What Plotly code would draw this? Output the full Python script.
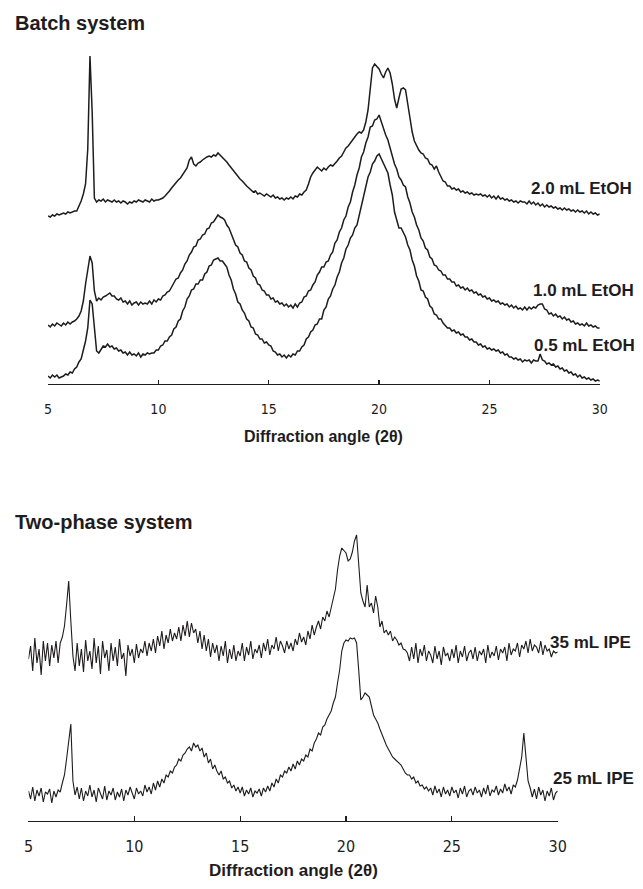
import plotly.graph_objects as go

# ---------------- data ----------------
# scan angles (2-theta, degrees), 0.1 degree steps from 5 to 30
angles = [round(5 + 0.1 * i, 1) for i in range(251)]

# Batch system (intensity, a.u., stacked offsets included)
etoh_20 = [
    168, 167, 169, 168, 170, 169, 170, 171, 170, 172,
    171, 172, 173, 173, 178, 183, 190, 200, 235, 328,
    272, 186, 182, 184, 183, 185, 182, 184, 183, 182,
    184, 182, 183, 181, 183, 182, 180, 182, 181, 183,
    182, 184, 183, 182, 184, 183, 182, 185, 183, 184,
    184, 185, 186, 188, 190, 193, 196, 199, 202, 204,
    206, 209, 212, 216, 224, 227, 220, 218, 221, 222,
    224, 226, 227, 228, 227, 229, 228, 231, 229, 227,
    225, 222, 219, 216, 213, 210, 208, 205, 203, 200,
    198, 196, 194, 192, 193, 190, 191, 189, 188, 190,
    188, 187, 189, 186, 187, 185, 186, 184, 186, 185,
    187, 185, 188, 187, 190, 189, 192, 194, 200, 207,
    211, 214, 217, 215, 213, 216, 214, 217, 219, 218,
    220, 223, 226, 228, 232, 236, 238, 241, 244, 248,
    250, 252, 251, 254, 262, 274, 292, 316, 320, 318,
    315, 310, 306, 312, 316, 311, 300, 285, 276, 286,
    295, 296, 294, 280, 266, 252, 243, 238, 234, 231,
    230, 226, 225, 220, 219, 215, 218, 212, 208, 203,
    202, 198, 198, 195, 196, 194, 195, 192, 193, 191,
    192, 190, 191, 189, 190, 189, 190, 188, 189, 187,
    189, 186, 188, 185, 188, 185, 186, 184, 185, 183,
    184, 182, 183, 181, 183, 182, 182, 180, 183, 180,
    182, 179, 181, 178, 180, 177, 179, 177, 178, 176,
    177, 175, 176, 174, 176, 174, 175, 173, 174, 172,
    174, 172, 173, 171, 173, 170, 172, 170, 171, 169,
    170,
]
etoh_10 = [
    59, 57, 60, 58, 61, 59, 58, 61, 59, 62,
    60, 62, 63, 65, 68, 73, 83, 100, 116, 128,
    121, 93, 83, 86, 84, 87, 88, 90, 91, 88,
    88, 85, 84, 86, 82, 83, 80, 83, 79, 81,
    82, 79, 82, 80, 81, 80, 83, 80, 84, 82,
    85, 84, 88, 89, 92, 93, 97, 100, 105, 106,
    111, 114, 120, 123, 129, 132, 137, 138, 144, 145,
    149, 150, 155, 156, 161, 162, 166, 169, 167, 166,
    164, 159, 156, 150, 146, 139, 137, 131, 129, 123,
    122, 116, 114, 108, 106, 100, 99, 94, 93, 89,
    89, 85, 86, 82, 83, 80, 81, 78, 80, 77,
    79, 76, 80, 77, 81, 82, 87, 88, 93, 94,
    99, 102, 109, 112, 117, 117, 122, 123, 129, 132,
    141, 144, 152, 156, 164, 168, 177, 182, 192, 199,
    209, 216, 227, 232, 241, 247, 257, 258, 264, 265,
    269, 262, 257, 249, 244, 235, 229, 220, 215, 207,
    204, 199, 197, 187, 181, 172, 167, 159, 154, 146,
    143, 136, 134, 127, 125, 119, 118, 114, 113, 109,
    109, 105, 105, 102, 102, 98, 99, 96, 97, 94,
    96, 93, 94, 91, 92, 89, 90, 87, 88, 85,
    86, 83, 84, 82, 83, 80, 81, 79, 80, 77,
    79, 76, 78, 75, 76, 74, 77, 74, 77, 75,
    77, 76, 79, 80, 80, 75, 74, 70, 71, 68,
    70, 67, 68, 65, 67, 64, 65, 62, 63, 60,
    61, 59, 60, 58, 61, 58, 59, 57, 58, 56,
    56,
]
etoh_05 = [
    8, 6, 9, 7, 9, 6, 7, 8, 10, 9,
    12, 11, 15, 17, 22, 25, 34, 43, 56, 84,
    80, 55, 33, 31, 34, 38, 37, 40, 37, 38,
    35, 36, 33, 34, 31, 32, 29, 32, 29, 30,
    28, 31, 27, 30, 29, 31, 30, 31, 31, 34,
    34, 38, 39, 43, 43, 47, 49, 55, 57, 63,
    65, 73, 77, 85, 88, 94, 95, 100, 100, 104,
    104, 110, 112, 118, 119, 124, 125, 126, 123, 123,
    120, 117, 109, 104, 95, 90, 82, 80, 74, 71,
    65, 63, 57, 56, 50, 49, 45, 45, 41, 42,
    39, 38, 33, 32, 29, 30, 27, 29, 26, 29,
    27, 30, 29, 33, 33, 37, 39, 45, 47, 52,
    54, 59, 60, 65, 65, 74, 77, 85, 88, 95,
    99, 107, 112, 121, 126, 135, 139, 146, 149, 156,
    159, 169, 177, 189, 197, 207, 212, 220, 223, 228,
    230, 225, 221, 215, 211, 199, 189, 172, 164, 156,
    156, 151, 147, 139, 134, 124, 118, 108, 103, 94,
    93, 87, 85, 78, 76, 70, 69, 65, 65, 61,
    59, 56, 56, 53, 54, 51, 52, 49, 50, 47,
    47, 44, 45, 42, 42, 39, 40, 37, 38, 35,
    36, 34, 35, 33, 34, 31, 32, 29, 30, 27,
    27, 25, 26, 24, 25, 22, 24, 23, 24, 21,
    24, 23, 23, 30, 24, 23, 20, 21, 19, 20,
    17, 18, 15, 16, 13, 14, 11, 12, 9, 10,
    7, 9, 6, 7, 5, 6, 4, 5, 3, 4,
    3,
]

# Two-phase system
ipe_35 = [
    162, 175, 150, 183, 158, 172, 146, 180, 160, 178,
    155, 176, 163, 180, 158, 178, 184, 195, 216, 240,
    200, 165, 150, 178, 155, 172, 149, 181, 160, 170,
    152, 183, 158, 175, 147, 180, 163, 171, 150, 178,
    160, 174, 155, 182, 162, 168, 145, 176, 165, 172,
    158, 177, 163, 172, 168, 180, 165, 178, 170, 182,
    168, 185, 175, 190, 172, 186, 178, 192, 180, 188,
    182, 194, 180, 196, 185, 200, 184, 198, 188, 192,
    178, 190, 172, 186, 170, 182, 164, 178, 168, 176,
    160, 175, 165, 180, 158, 172, 162, 176, 160, 170,
    165, 178, 160, 174, 166, 180, 162, 172, 168, 176,
    163, 178, 170, 182, 166, 176, 172, 184, 170, 180,
    175, 168, 180, 172, 178, 170, 182, 176, 188, 179,
    184, 176, 190, 182, 196, 186, 194, 200, 192, 204,
    200, 210, 204, 214, 221, 232, 251, 265, 273, 270,
    268, 260, 262, 269, 280, 286, 258, 228, 220, 214,
    236, 214, 218, 208, 225, 214, 194, 200, 188, 191,
    186, 190, 180, 184, 181, 176, 178, 172, 171, 168,
    160, 174, 162, 178, 158, 172, 165, 176, 160, 170,
    166, 158, 175, 162, 170, 156, 174, 165, 168, 160,
    172, 163, 176, 158, 170, 164, 175, 160, 168, 171,
    162, 174, 160, 170, 166, 172, 158, 176, 163, 169,
    165, 175, 161, 172, 168, 174, 160, 178, 166, 172,
    170, 178, 164, 176, 172, 180, 168, 182, 170, 176,
    174, 168, 180, 166, 176, 170, 172, 164, 170, 168,
    169,
]
ipe_25 = [
    30, 22, 34, 20, 31, 25, 33, 19, 29, 27,
    32, 18, 30, 24, 31, 29, 38, 46, 62, 80,
    97, 40, 26, 34, 22, 33, 20, 30, 25, 36,
    24, 31, 19, 33, 27, 22, 35, 21, 30, 26,
    33, 21, 29, 24, 32, 20, 31, 26, 34, 28,
    22, 33, 27, 30, 25, 36, 29, 34, 27, 38,
    31, 40, 34, 42, 38, 46, 44, 50, 48, 54,
    56, 62, 60, 66, 68, 72, 74, 70, 78, 74,
    76, 70, 73, 64, 68, 58, 62, 52, 56, 50,
    46, 50, 42, 44, 38, 40, 33, 36, 30, 34,
    28, 34, 25, 31, 27, 33, 24, 30, 28, 32,
    25, 33, 29, 35, 30, 38, 34, 42, 38, 46,
    44, 50, 48, 54, 50, 57, 52, 60, 56, 62,
    60, 66, 64, 72, 70, 78, 82, 88, 86, 94,
    96, 102, 106, 110, 118, 124, 138, 151, 170, 178,
    181, 180, 183, 182, 183, 178, 151, 121, 124, 128,
    126, 124, 115, 106, 102, 98, 92, 86, 80, 76,
    72, 68, 64, 62, 60, 58, 56, 52, 48, 46,
    46, 42, 44, 38, 40, 35, 36, 32, 34, 30,
    33, 26, 35, 28, 32, 24, 34, 27, 31, 25,
    34, 28, 31, 23, 33, 27, 35, 24, 30, 32,
    26, 34, 28, 31, 24, 33, 27, 36, 25, 31,
    29, 35, 26, 32, 28, 37, 30, 34, 27, 36,
    34, 41, 52, 64, 88, 66, 40, 33, 24, 32,
    22, 34, 26, 31, 20, 30, 25, 33, 21, 28,
    30,
]

tick_vals = [5, 10, 15, 20, 25, 30]
tick_text = ["5", "10", "15", "20", "25", "30"]

top_series = [("2.0 mL EtOH", etoh_20), ("1.0 mL EtOH", etoh_10), ("0.5 mL EtOH", etoh_05)]
bottom_series = [("35 mL IPE", ipe_35), ("25 mL IPE", ipe_25)]

# ---------------- figure ----------------
W, H = 643, 889
INK = "#1e1c1d"


def px_x(px):
    return px / W


def px_y(py):
    return 1 - py / H


fig = go.Figure()
for name, vals in top_series:
    fig.add_trace(go.Scatter(x=angles, y=vals, mode="lines", name=name,
                             line=dict(color=INK, width=1.5), xaxis="x", yaxis="y"))
for name, vals in bottom_series:
    fig.add_trace(go.Scatter(x=angles, y=vals, mode="lines", name=name,
                             line=dict(color=INK, width=1.1), xaxis="x2", yaxis="y2"))

narrow = "DejaVu Sans Condensed, Liberation Sans Narrow, Arial Narrow, sans-serif"
sans = "Liberation Sans, Arial, Helvetica, sans-serif"

common_x = dict(range=[5, 30], showline=True, linecolor=INK, linewidth=1.3,
                ticks="inside", tickcolor=INK, tickwidth=1.2,
                tickvals=tick_vals, ticktext=tick_text,
                showgrid=False, zeroline=False, fixedrange=True)

fig.update_layout(
    width=W, height=H,
    margin=dict(l=0, r=0, t=0, b=0),
    paper_bgcolor="white", plot_bgcolor="white",
    showlegend=False,
    hovermode=False,
    xaxis=dict(domain=[px_x(44), px_x(608)], anchor="y", ticklen=4,
               tickfont=dict(family=narrow, size=14, color=INK),
               ticklabelstandoff=12, **common_x),
    yaxis=dict(domain=[px_y(384), px_y(40)], range=[0, 344], visible=False, fixedrange=True),
    xaxis2=dict(domain=[px_x(24), px_x(565)], anchor="y2", ticklen=5,
                tickfont=dict(family=narrow, size=16, color=INK),
                ticklabelstandoff=10, **common_x),
    yaxis2=dict(domain=[px_y(821), px_y(521)], range=[0, 300], visible=False, fixedrange=True),
)

annos = [
    dict(text="<b>Batch system</b>", x=px_x(8), y=px_y(23), size=20),
    dict(text="<b>Two-phase system</b>", x=px_x(8), y=px_y(522), size=20),
]
for a in annos:
    fig.add_annotation(text=a["text"], xref="paper", yref="paper", x=a["x"], y=a["y"],
                       xanchor="left", yanchor="middle", showarrow=False,
                       font=dict(family=sans, size=a["size"], color=INK))

# axis titles
fig.add_annotation(text="<b>Diffraction angle (2θ)</b>", xref="paper", yref="paper",
                   x=px_x(326), y=px_y(437), xanchor="center", yanchor="middle",
                   showarrow=False, font=dict(family=sans, size=16, color=INK))
fig.add_annotation(text="<b>Diffraction angle (2θ)</b>", xref="paper", yref="paper",
                   x=px_x(295), y=px_y(870), xanchor="center", yanchor="middle",
                   showarrow=False, font=dict(family=sans, size=17, color=INK))

# series labels
labels_top = [("2.0 mL EtOH", 26.8, 196), ("1.0 mL EtOH", 26.9, 94), ("0.5 mL EtOH", 26.95, 39)]
for txt, lx, ly in labels_top:
    fig.add_annotation(text="<b>%s</b>" % txt, xref="x", yref="y", x=lx, y=ly,
                       xanchor="left", yanchor="middle", showarrow=False,
                       font=dict(family=sans, size=17, color=INK))
labels_bottom = [("35 mL IPE", 29.55, 179), ("25 mL IPE", 29.68, 43)]
for txt, lx, ly in labels_bottom:
    fig.add_annotation(text="<b>%s</b>" % txt, xref="x2", yref="y2", x=lx, y=ly,
                       xanchor="left", yanchor="middle", showarrow=False,
                       font=dict(family=sans, size=17, color=INK))

# remove the default page margin so the figure sits at the window origin
fig.write_html("out.html", config={"displayModeBar": False, "staticPlot": True},
               post_script="document.body.style.margin='0px';")
